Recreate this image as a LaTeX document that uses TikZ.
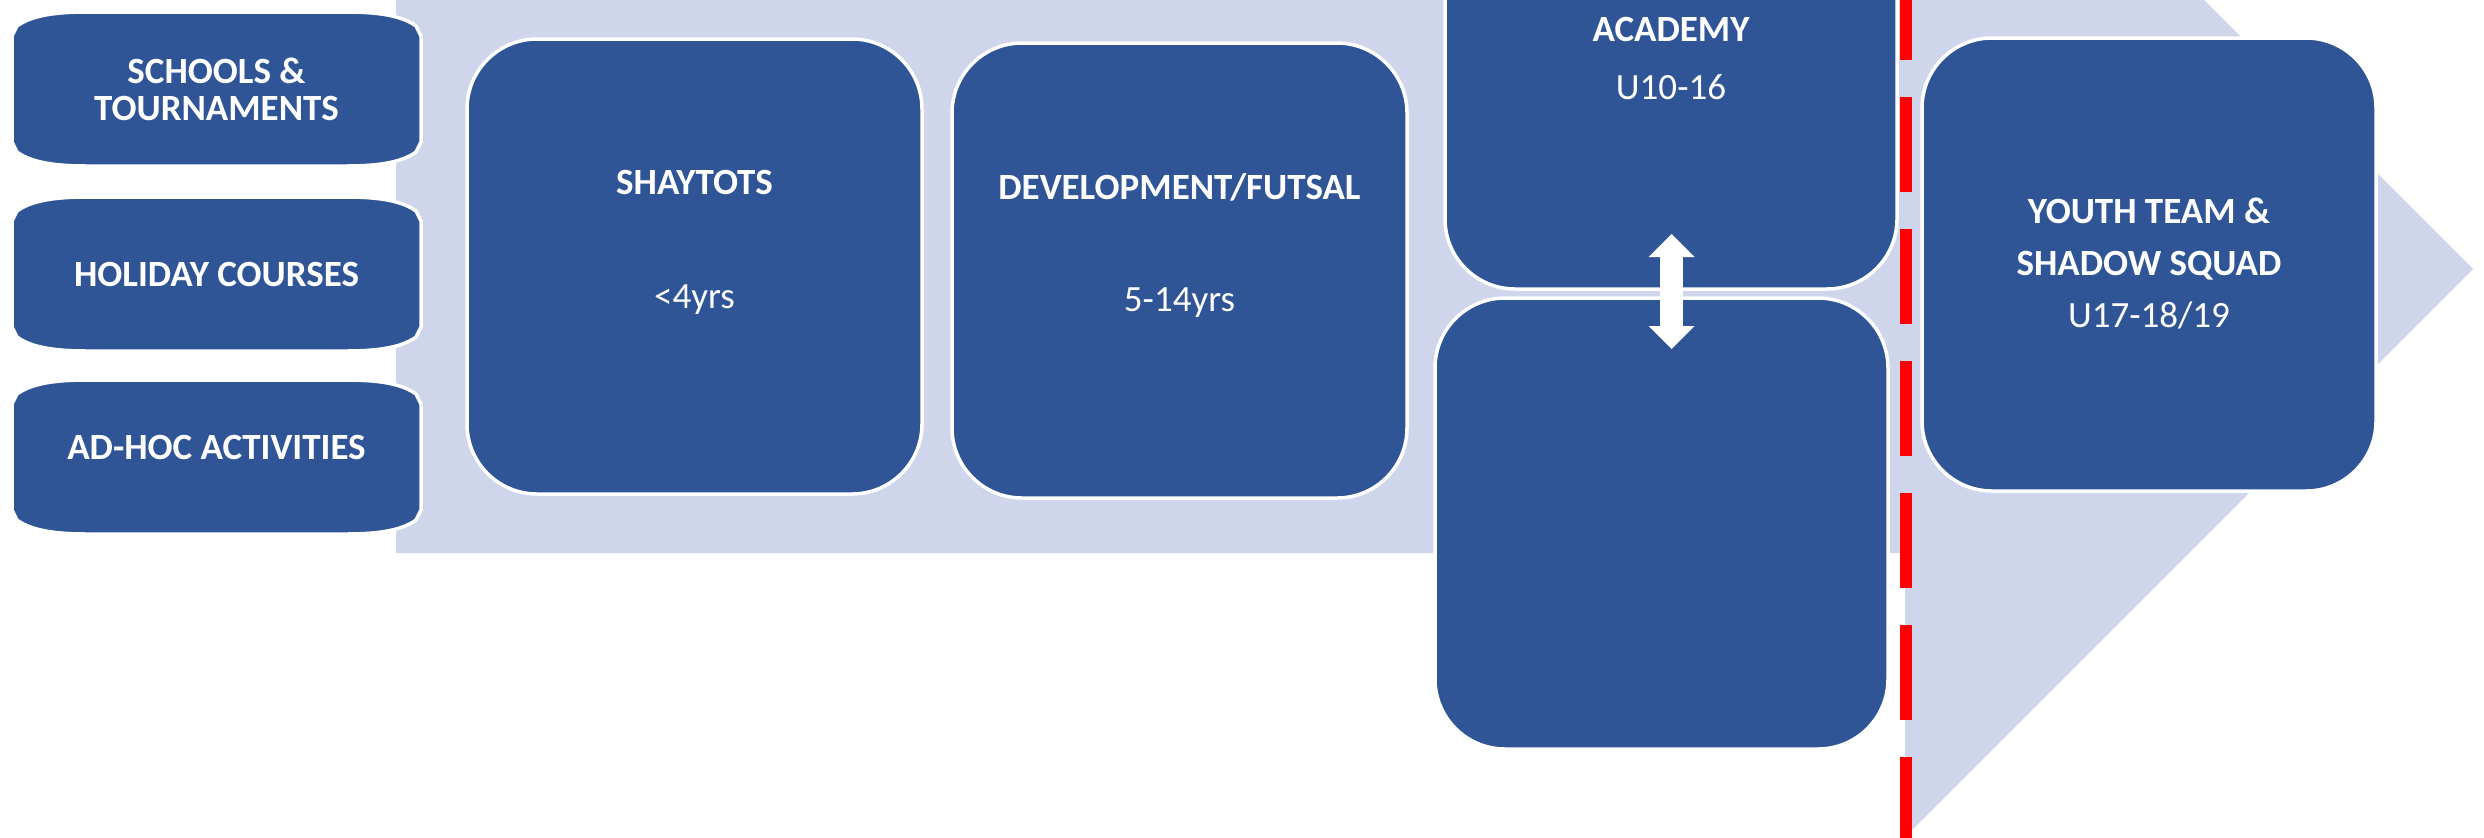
\documentclass[tikz,border=0pt]{standalone}
\usepackage{fontspec}
\setmainfont{Carlito}
\usetikzlibrary{calc,arrows.meta}
\definecolor{boxblue}{HTML}{2F5597}
\definecolor{lav}{HTML}{CFD5EA}
\definecolor{divred}{HTML}{FF0000}
\newcommand\sideshape[1]{%
  \path[sideshapestyle]
    ($(#1.north west)+(0,24)$) -- ($(#1.north west)+(5,14)$)
    .. controls ($(#1.north west)+(20,3)$) and ($(#1.north west)+(45,0)$) .. ($(#1.north west)+(75,0)$)
    -- ($(#1.north east)+(-75,0)$)
    .. controls ($(#1.north east)+(-45,0)$) and ($(#1.north east)+(-20,3)$) .. ($(#1.north east)+(-5,14)$)
    -- ($(#1.north east)+(0,24)$) -- ($(#1.south east)+(0,-24)$) -- ($(#1.south east)+(-5,-14)$)
    .. controls ($(#1.south east)+(-20,-3)$) and ($(#1.south east)+(-45,0)$) .. ($(#1.south east)+(-75,0)$)
    -- ($(#1.south west)+(75,0)$)
    .. controls ($(#1.south west)+(45,0)$) and ($(#1.south west)+(20,-3)$) .. ($(#1.south west)+(5,-14)$)
    -- ($(#1.south west)+(0,-24)$) -- cycle;}
\tikzset{
  mainbox/.style={rectangle, rounded corners=35pt, fill=boxblue, draw=white, line width=1.75pt, inner sep=0pt, outer sep=0pt},
  sidebox/.style={rectangle, inner sep=0pt, outer sep=0pt, minimum width=204.5pt, minimum height=77pt},
  sideshapestyle/.style={fill=boxblue, draw=white, line width=1.75pt},
  boldlbl/.style={text=white, font=\fontsize{18.5}{22}\selectfont\bfseries, anchor=base, inner sep=0pt},
  lbl/.style={text=white, font=\fontsize{18.5}{22}\selectfont, anchor=base, inner sep=0pt},
  bgarrow/.style={fill=lav},
  divider/.style={draw=divred, line width=6pt, dash pattern=on 47.5pt off 18.5pt},
  dblarrow/.style={draw=white, line width=11.5pt,
    {Triangle[width=23pt,length=11.5pt,line width=0pt]}-{Triangle[width=23pt,length=11.5pt,line width=0pt]}}
}
\begin{document}
\begin{tikzpicture}[x=0.5pt,y=-0.5pt]
\useasboundingbox (0,0) rectangle (2484,837);
\clip (0,0) rectangle (2484,837);
% background arrow
\path[bgarrow] (396,-15) -- (1905,-15) -- (1905,-299) -- (2473,269) -- (1905,837) -- (1905,553) -- (396,553) -- cycle;
% main boxes
\node[mainbox, minimum width=227.5pt, minimum height=227.5pt] (shay) at (694.5,266.5) {};
\node[mainbox, minimum width=227.5pt, minimum height=227.5pt] (dev) at (1179.5,270.5) {};
\node[mainbox, minimum width=226pt, minimum height=227.5pt] (acad) at (1671,61.5) {};
\node[mainbox, minimum width=226.5pt, minimum height=225.5pt] (lower) at (1661.5,523.5) {};
\node[mainbox, minimum width=227pt, minimum height=226.5pt] (youth) at (2149,264.5) {};
% side boxes
\node[sidebox] (s1) at (216.5,89) {};
\node[sidebox] (s2) at (216.5,274) {};
\node[sidebox] (s3) at (216.5,457) {};
\sideshape{s1}
\sideshape{s2}
\sideshape{s3}
% labels
\node[boldlbl] (t-s1a) at (216.5,83) {SCHOOLS \&};
\node[boldlbl] (t-s1b) at (216.5,120) {TOURNAMENTS};
\node[boldlbl] (t-s2) at (216.5,286) {HOLIDAY COURSES};
\node[boldlbl] (t-s3) at (216.5,459) {AD-HOC ACTIVITIES};
\node[boldlbl] (t-shay) at (694.5,194) {SHAYTOTS};
\node[lbl] (t-shay2) at (694.5,308) {<4yrs};
\node[boldlbl] (t-dev) at (1179.5,199) {DEVELOPMENT/FUTSAL};
\node[lbl] (t-dev2) at (1179.5,311) {5-14yrs};
\node[boldlbl] (t-acad) at (1671,41) {ACADEMY};
\node[lbl] (t-acad2) at (1671,99) {U10-16};
\node[boldlbl] (t-y1) at (2149,223) {YOUTH TEAM \&};
\node[boldlbl] (t-y2) at (2149,275) {SHADOW SQUAD};
\node[lbl] (t-y3) at (2149,327) {U17-18/19};
% divider
\coordinate (divtop) at (1905.5,-35);
\coordinate (divbot) at (1905.5,870);
\draw[divider] (divtop) -- (divbot);
% double arrow between academy and lower box
\coordinate (arrtop) at (1671.5,234);
\coordinate (arrbot) at (1671.5,349);
\draw[dblarrow] (arrtop) -- (arrbot);
\end{tikzpicture}
\end{document}
